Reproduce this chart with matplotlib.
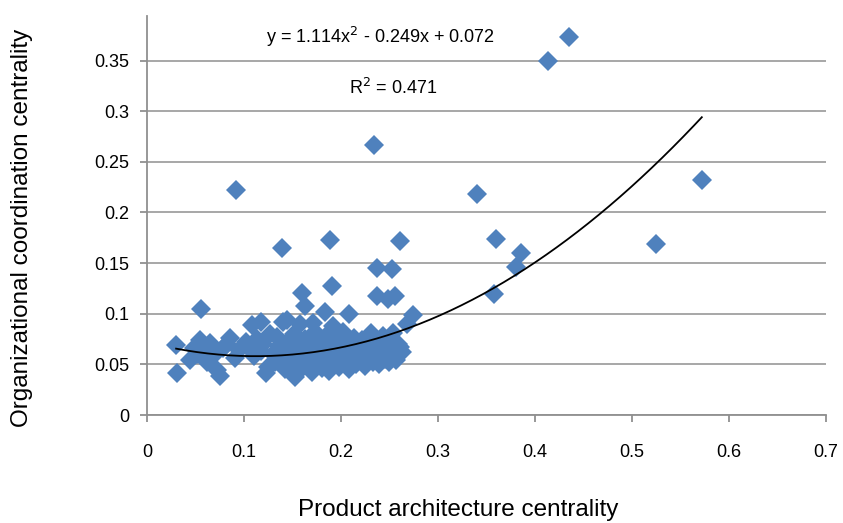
import numpy as np
import matplotlib
matplotlib.use("Agg")
import matplotlib.pyplot as plt

plt.rcParams['font.family'] = ['Liberation Sans', 'DejaVu Sans']

# product architecture centrality (x) vs organizational coordination centrality (y)
arch = [
    0.030, 0.031, 0.056, 0.044, 0.048, 0.055, 0.060, 0.065, 0.068, 0.072,
    0.075, 0.078, 0.082, 0.086, 0.091, 0.095, 0.052, 0.062,
    0.102, 0.105, 0.108, 0.110, 0.113, 0.117, 0.118, 0.120, 0.123, 0.125,
    0.127, 0.130, 0.132, 0.134, 0.136, 0.140, 0.140, 0.142, 0.144, 0.145,
    0.148, 0.150, 0.152, 0.153, 0.155, 0.158, 0.158, 0.160,
    0.163, 0.165, 0.168, 0.170, 0.171, 0.173, 0.175, 0.177, 0.180, 0.182,
    0.184, 0.185, 0.187, 0.188, 0.190, 0.192, 0.195, 0.197, 0.198, 0.200,
    0.202, 0.204, 0.206, 0.208, 0.208, 0.210, 0.213, 0.215, 0.217, 0.220,
    0.222, 0.223, 0.225, 0.227, 0.229, 0.231, 0.233, 0.235, 0.237, 0.239,
    0.241, 0.243, 0.245, 0.247, 0.249, 0.251, 0.253, 0.254, 0.256, 0.257,
    0.259, 0.261, 0.263, 0.268, 0.274,
    0.160, 0.163, 0.191, 0.237, 0.253, 0.237, 0.248, 0.256, 0.139, 0.189,
    0.261, 0.234, 0.092, 0.340, 0.360, 0.386, 0.380, 0.358, 0.413, 0.435,
    0.525, 0.572,
]
coord = [
    0.069, 0.041, 0.105, 0.054, 0.066, 0.074, 0.062, 0.071, 0.058, 0.044,
    0.039, 0.066, 0.070, 0.076, 0.056, 0.064, 0.060, 0.052,
    0.072, 0.066, 0.089, 0.058, 0.075, 0.092, 0.063, 0.070, 0.041, 0.047,
    0.080, 0.060, 0.052, 0.077, 0.068, 0.092, 0.055, 0.045, 0.094, 0.072,
    0.062, 0.050, 0.080, 0.038, 0.068, 0.090, 0.044, 0.058,
    0.075, 0.050, 0.065, 0.042, 0.091, 0.082, 0.055, 0.070, 0.046, 0.062,
    0.102, 0.078, 0.052, 0.043, 0.068, 0.088, 0.058, 0.075, 0.047, 0.064,
    0.082, 0.053, 0.070, 0.100, 0.045, 0.060, 0.076, 0.050, 0.066, 0.055,
    0.074, 0.062, 0.048, 0.069, 0.057, 0.081, 0.052, 0.064, 0.072, 0.050,
    0.060, 0.078, 0.055, 0.067, 0.052, 0.074, 0.060, 0.081, 0.056, 0.054,
    0.070, 0.067, 0.062, 0.090, 0.099,
    0.120, 0.108, 0.127, 0.145, 0.144, 0.118, 0.115, 0.118, 0.165, 0.173,
    0.172, 0.267, 0.222, 0.218, 0.174, 0.160, 0.146, 0.119, 0.350, 0.373,
    0.169, 0.232,
]

# quadratic trend reported on the chart
coef = [1.114, -0.249, 0.072]
r2 = 0.471

fig = plt.figure(figsize=(8.43, 5.23), dpi=100)
ax = fig.add_axes([0.1744, 0.2065, 0.8054, 0.7629])

ax.plot(arch, coord, linestyle='none', marker='D', markersize=10,
        color='#4F81BD', markeredgewidth=0, zorder=3)

xs = np.linspace(min(arch), max(arch), 200)
ax.plot(xs, np.polyval(coef, xs), color='black', linewidth=1.3, zorder=4)

ax.set_xlim(0, 0.7)
ax.set_ylim(0, 0.394)
ax.set_xticks(np.arange(0, 0.71, 0.1))
ax.set_yticks(np.arange(0, 0.351, 0.05))
ax.set_xticklabels(['0', '0.1', '0.2', '0.3', '0.4', '0.5', '0.6', '0.7'])
ax.set_yticklabels(['0', '0.05', '0.1', '0.15', '0.2', '0.25', '0.3', '0.35'])
ax.yaxis.grid(True, color='#a0a0a0', linewidth=1.3)
ax.set_axisbelow(True)
for s in ['top', 'right']:
    ax.spines[s].set_visible(False)
for s in ['left', 'bottom']:
    ax.spines[s].set_color('#909090')
    ax.spines[s].set_linewidth(1.3)
ax.tick_params(axis='both', colors='#909090', length=5, width=1.3,
               labelsize=13, labelcolor='black')
ax.tick_params(axis='x', pad=16)
ax.tick_params(axis='y', pad=8)

ax.set_xlabel('Product architecture centrality', fontsize=17.5, va='center')
ax.set_ylabel('Organizational coordination centrality', fontsize=17.5, va='center')
ax.xaxis.set_label_coords(0.459, -0.238)
ax.yaxis.set_label_coords(-0.184, 0.47)

ax.text(0.2405, 0.3735, 'y = 1.114x$^2$ - 0.249x + 0.072', fontsize=13,
        ha='center', va='center')
ax.text(0.2535, 0.3225, 'R$^2$ = %.3f' % r2, fontsize=13,
        ha='center', va='center')

fig.savefig('out.png')
